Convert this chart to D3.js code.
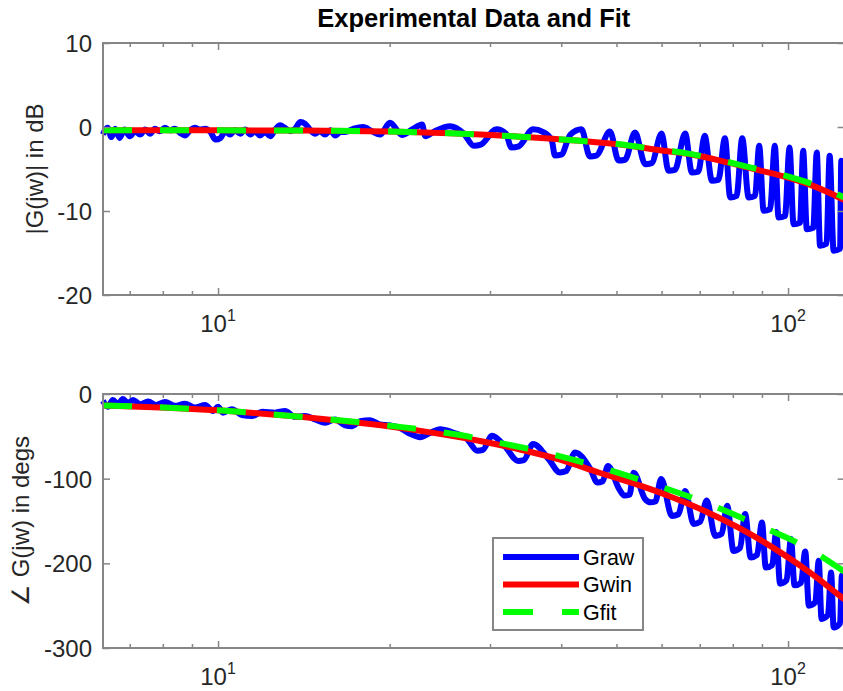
<!DOCTYPE html>
<html><head><meta charset="utf-8">
<script src="https://cdn.jsdelivr.net/npm/d3@7"></script>
<style>
body{margin:0;background:#fff}
svg{display:block}
text{font-family:"Liberation Sans",Arial,Helvetica,sans-serif}
</style>
</head><body>
<svg id="c" width="843" height="691"></svg>
<script>
// ---------- data ----------
const xDomain = [6.2832, 125.664];
const xTickValues = [10, 100];
const xTickExp = ["1", "2"];
const xMinorTicks = [7, 8, 9, 20, 30, 40, 50, 60, 70, 80, 90];
const magTicks = [-20, -10, 0, 10];
const phTicks = [-300, -200, -100, 0];

// Graw magnitude (rad/s, dB)
const rawMagW = [6.28,6.4,6.5,6.6,6.72,6.85,7.0,7.15,7.3,7.45,7.6,7.75,7.9,8.07,8.24,8.4,8.58,8.75,8.93,9.1,9.3,9.5,9.7,9.9,10.1,10.3,10.5,10.7,10.95,11.15,11.4,11.6,11.85,12.1,12.35,12.6,12.85,13.1,13.4,13.65,13.95,14.2,14.5,14.8,15.1,15.4,15.75,16.05,16.4,
  16.7,17.3,17.96,18.63,19.24,20.03,21.03,21.9,22.8,23.1,24.0,25.5,27.0,28.1,28.9,30.8,32.0,32.7,33.7,35.7,37.2,38.5,39.0,40.0,41.5,43.4,
  44.91,46.09,48.7,50.44,51.76,53.9,56.16,57.64,60.0,61.69,63.31,66.0,67.81,69.59,71.4,73.53,75.47,77.5,79.16,81.24,83.1,85.28,87.52,89.0,
  90.61,92.99,94.8,96.23,98.77,100.6,102.25,104.95,106.3,107.88,110.72,112.3,113.8,116.8,118.3,120.22,123.38,124.0,125.66];
const rawMag = [-0.9,-0.1,-1.2,-0.2,-1.3,-0.3,-1.1,-0.5,-0.9,-0.3,-0.8,-0.2,-0.5,-0.1,-0.4,-0.2,-0.7,-1.0,-0.4,-0.1,-0.3,-0.2,-0.6,-1.5,-1.3,-0.5,-0.9,-0.4,-0.8,-0.3,-0.9,-0.5,-1.0,-0.6,-1.1,-0.3,0.2,-0.1,-0.5,-0.2,0.6,0.4,-0.3,-0.8,-0.5,-0.9,-0.4,-1.0,-0.6,
  -0.6,-0.2,0.0,-0.5,-0.9,0.5,-0.95,-0.3,0.3,-1.1,-0.5,0.1,-0.8,-2.24,-2.1,-0.26,-0.8,-2.44,-2.3,-0.26,-0.6,-1.6,-3.4,-3.3,-0.9,-0.26,
  -3.5,-3.4,-0.54,-4.0,-3.9,-0.66,-4.43,-4.3,-0.78,-5.21,-5.1,-0.78,-5.42,-5.3,-1.05,-6.4,-6.3,-1.34,-8.39,-8.2,-1.34,-8.39,-8.2,-2.24,
  -9.98,-9.8,-2.24,-10.77,-10.6,-2.44,-11.57,-11.4,-2.84,-12.17,-12.0,-3.04,-14.14,-13.9,-3.43,-14.74,-14.5,-4.03,-12];

// Graw phase (rad/s, deg)
const rawPhW = [6.28,6.41,6.54,6.67,6.81,6.95,7.09,7.3,7.54,7.79,8.07,8.41,8.75,9.11,9.49,9.8,10.0,10.2,10.58,11.02,11.47,11.95,12.59,13.11,13.65,14.21,14.8,15.41,16.04,16.71,17.18,17.75,18.48,19.24,20.03,20.86,21.72,22.62,23.55,24.52,25.84,27.34,
  28.5,29.15,30.25,31.88,33.6,34.4,35.7,37.93,39.8,40.8,42.3,44.94,46.3,47.3,48.3,50.52,51.6,52.7,53.6,56.12,57.4,58.5,59.9,
  62.58,64.22,66.0,68.3,70.1,72.0,74.52,76.48,78.2,80.24,82.36,84.1,85.97,88.23,90.0,91.4,93.8,95.3,96.82,99.38,101.2,102.65,105.35,107.2,108.77,111.63,113.2,114.49,117.51,119.0,120.22,123.38,124.3,125.66];
const rawPh = [-8,-15,-7,-12,-6,-11,-7,-12,-9,-13,-9.5,-14,-11.5,-16,-13,-20,-15,-22,-18,-25,-26,-21,-22,-20,-27,-26,-30,-34,-30,-37,-38,-32,-31,-36,-37,-40,-47,-51,-46,-41.5,-45.5,-53,
  -67,-66,-49.4,-62,-79,-78,-59,-76,-92.7,-91,-69,-88,-104.5,-103,-85,-112,-120,-119,-93,-124,-128,-127,-100.4,
  -144,-142,-114.6,-153.5,-151,-125.8,-167.7,-165,-132,-185.4,-182,-141.7,-193,-190,-151.8,-205,-202,-163,-224,-220,-171.3,-226,-223,-186,-250,-246,-197,-265.7,-261,-210.8,-275.8,-271,-214,-250];

// Gwin / Gfit magnitude
const winMagW = [6.283,10,13.93,20.03,25.53,33.87,43.16,50.75,57.97,67.32,75.99,85.81,99.59,111.5,125.66];
const winMag  = [-0.40,-0.40,-0.42,-0.55,-0.75,-1.15,-1.65,-2.1,-2.65,-3.25,-4.0,-4.9,-6.0,-7.1,-8.7];
const fitMagW = [6.283,10,13.93,20.03,25.53,33.87,43.16,50.75,57.97,67.32,75.99,85.81,99.59,111.5,125.66];
const fitMag  = [-0.40,-0.40,-0.42,-0.55,-0.75,-1.15,-1.65,-2.05,-2.6,-3.2,-3.95,-4.8,-5.85,-6.9,-8.4];

// Gwin / Gfit phase
const winPhW = [6.283,7.91,10,11.85,13.93,16.71,20.03,23.55,28.82,33.87,39.81,46.7,54.9,62.1,71.9,82.2,94.4,107.8,125.66];
const winPh  = [-13.5,-15.8,-19.3,-23,-27,-32.3,-38.5,-45.3,-55.5,-65.5,-77.5,-93,-108,-121,-139,-158.5,-182,-208,-243];
const fitPhW = [6.283,10,13.93,20.03,26.58,30.8,38.4,47.5,58.6,72,88.5,108.4,125.66];
const fitPh  = [-13.5,-19.2,-26.8,-37.5,-48.5,-57,-70.9,-87.8,-107.5,-129,-154.7,-182.3,-210];

const legendNames = ["Graw", "Gwin", "Gfit"];
const colors = {raw: "#0000ff", win: "#ff0000", fit: "#00ff00"};

// ---------- drawing ----------
const svg = d3.select("#c");
const left = 103, right = 844.6;
const x = d3.scaleLog().domain(xDomain).range([left, right]);
const axisCol = "#868686", textCol = "#262626";
const zip = (a, b) => a.map((v, i) => [v, b[i]]);

const panels = [
  {top: 43, bottom: 295, domain: [-20, 10], ticks: magTicks, raw: zip(rawMagW, rawMag),
   win: zip(winMagW, winMag), fit: zip(fitMagW, fitMag), label: "|G(jw)| in dB", labelX: 43},
  {top: 394, bottom: 648, domain: [-300, 0], ticks: phTicks, raw: zip(rawPhW, rawPh),
   win: zip(winPhW, winPh), fit: zip(fitPhW, fitPh), label: "\u2220 G(jw) in degs", labelX: 29}
];

panels.forEach((p, i) => {
  const y = d3.scaleLinear().domain(p.domain).range([p.bottom, p.top]);
  const g = svg.append("g");
  const cid = "clip" + i;
  svg.append("clipPath").attr("id", cid).append("rect")
    .attr("x", left - 3).attr("y", p.top - 4).attr("width", right - left + 6).attr("height", p.bottom - p.top + 8);
  const data = g.append("g").attr("clip-path", `url(#${cid})`);
  const smooth = d3.line().x(d => x(d[0])).y(d => y(d[1])).curve(d3.curveMonotoneX);
  data.append("path").attr("d", smooth(p.raw)).attr("fill", "none").attr("stroke", colors.raw)
    .attr("stroke-width", 6).attr("stroke-linejoin", "round");
  data.append("path").attr("d", smooth(p.win)).attr("fill", "none").attr("stroke", colors.win)
    .attr("stroke-width", 6);
  data.append("path").attr("d", smooth(p.fit)).attr("fill", "none").attr("stroke", colors.fit)
    .attr("stroke-width", 6).attr("stroke-dasharray", "29,28");

  g.append("rect").attr("x", left).attr("y", p.top).attr("width", right - left).attr("height", p.bottom - p.top)
    .attr("fill", "none").attr("stroke", axisCol).attr("stroke-width", 2);

  const styleAxis = sel => { sel.select(".domain").remove(); sel.selectAll(".tick line").attr("stroke", axisCol).attr("stroke-width", 1.5); };
  g.append("g").attr("transform", `translate(0,${p.bottom})`)
    .call(d3.axisBottom(x).tickValues(xTickValues).tickSize(-7).tickFormat("")).call(styleAxis);
  g.append("g").attr("transform", `translate(0,${p.bottom})`)
    .call(d3.axisBottom(x).tickValues(xMinorTicks).tickSize(-4).tickFormat("")).call(styleAxis);
  g.append("g").attr("transform", `translate(0,${p.top})`)
    .call(d3.axisTop(x).tickValues(xTickValues).tickSize(-7).tickFormat("")).call(styleAxis);
  g.append("g").attr("transform", `translate(0,${p.top})`)
    .call(d3.axisTop(x).tickValues(xMinorTicks).tickSize(-4).tickFormat("")).call(styleAxis);
  const ya = g.append("g").attr("transform", `translate(${left},0)`)
    .call(d3.axisLeft(y).tickValues(p.ticks).tickSizeInner(-7).tickSizeOuter(0).tickPadding(11).tickFormat(d => String(d)))
    .call(styleAxis);
  ya.attr("font-size", null).attr("font-family", null);
  ya.selectAll(".tick text").attr("fill", textCol).style("font-size", "24px").attr("dy", "0.36em");
  g.append("g").attr("transform", `translate(${right},0)`)
    .call(d3.axisRight(y).tickValues(p.ticks).tickSize(-7).tickFormat("")).call(styleAxis);

  xTickValues.forEach((v, k) => {
    const t = g.append("text").attr("x", x(v)).attr("y", p.bottom + 37).attr("text-anchor", "middle")
      .attr("fill", textCol).style("font-size", "24px");
    t.append("tspan").text("10");
    t.append("tspan").attr("dy", -11).style("font-size", "16px").text(xTickExp[k]);
  });

  g.append("text").attr("transform", `translate(${p.labelX},${(p.top + p.bottom) / 2}) rotate(-90)`)
    .attr("text-anchor", "middle").attr("fill", textCol).style("font-size", "24px").text(p.label);
});

svg.append("text").attr("x", (left + right) / 2).attr("y", 27).attr("text-anchor", "middle")
  .style("font-size", "25.5px").style("font-weight", "bold").attr("fill", "#000")
  .text("Experimental Data and Fit");

const lg = svg.append("g");
lg.append("rect").attr("x", 493).attr("y", 538).attr("width", 150).attr("height", 92)
  .attr("fill", "#fff").attr("stroke", axisCol).attr("stroke-width", 2);
const legendKeys = ["raw", "win", "fit"];
legendNames.forEach((n, k) => {
  const yy = 557 + k * 27.5;
  const l = lg.append("line").attr("x1", 503).attr("x2", 579).attr("y1", yy).attr("y2", yy)
    .attr("stroke", colors[legendKeys[k]]).attr("stroke-width", 6);
  if (k === 2) l.attr("stroke-dasharray", "30,29");
  lg.append("text").attr("x", 583).attr("y", yy + 7.5).style("font-size", "21.5px").attr("fill", "#000").text(n);
});
</script>
</body></html>
